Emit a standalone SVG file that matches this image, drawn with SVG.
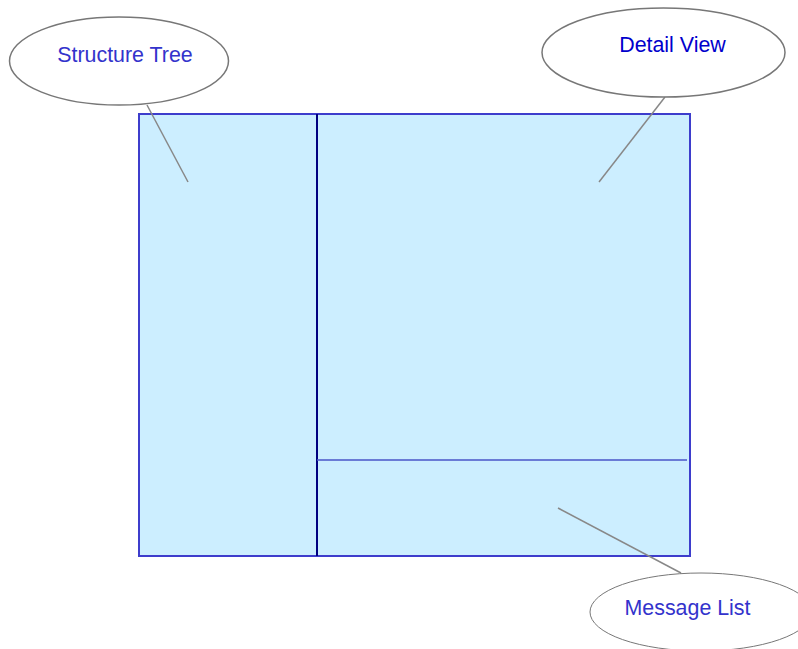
<svg xmlns="http://www.w3.org/2000/svg" width="798" height="649" viewBox="0 0 798 649">
<style>
.callout{fill:#ffffff;stroke:#777777;stroke-width:1.5}
.lbl{font-family:"Liberation Sans",Arial,sans-serif;font-size:21.4px;text-anchor:middle;fill:#3333cc}
.leader{stroke:#888888;stroke-width:1.5;fill:none}
</style>
<rect width="798" height="649" fill="#ffffff"/>
<g id="window">
<rect x="139" y="114" width="551" height="442" fill="#cceeff" stroke="#3d3dcc" stroke-width="2"/>
<line x1="317" y1="114" x2="317" y2="556" stroke="#000080" stroke-width="2"/>
<line x1="317" y1="460" x2="687" y2="460" stroke="#4a55c8" stroke-width="1.5"/>
</g>
<g id="connectors">
<line class="leader" x1="147" y1="105" x2="188" y2="182"/>
<line class="leader" x1="665" y1="97" x2="599" y2="182"/>
<line class="leader" x1="558" y1="508" x2="681" y2="573" stroke-width="1"/>
</g>
<g id="structure-tree">
<ellipse class="callout" cx="119" cy="61" rx="109.5" ry="44"/>
<text class="lbl" x="125" y="62">Structure Tree</text>
</g>
<g id="detail-view">
<ellipse class="callout" cx="663.5" cy="52.5" rx="121.5" ry="44.5"/>
<text class="lbl" x="672.5" y="52" style="fill:#0000cc">Detail View</text>
</g>
<g id="message-list">
<ellipse class="callout" cx="701" cy="612" rx="111" ry="39" style="stroke-width:1"/>
<text class="lbl" x="687.5" y="615">Message List</text>
</g>
</svg>
